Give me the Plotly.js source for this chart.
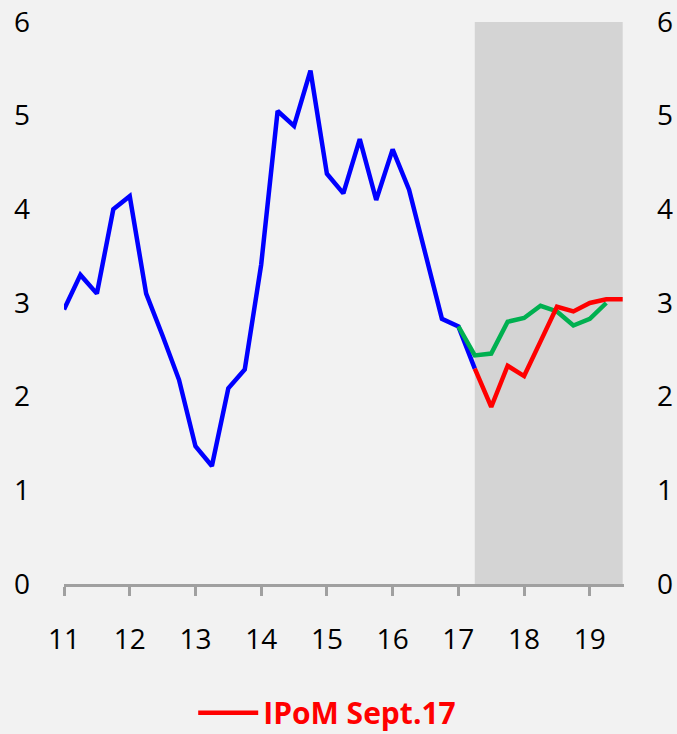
<!DOCTYPE html>
<html>
<head>
<meta charset="utf-8">
<script src="https://cdn.plot.ly/plotly-3.0.1.min.js"></script>
<style>
  html, body { margin: 0; padding: 0; background: #f2f2f2; }
  #chart { width: 677px; height: 734px; }
</style>
</head>
<body>
<div id="chart"></div>
<script>
// Historical series (blue), quarterly, years as decimals (11 = 2011)
const histX = [11.00, 11.25, 11.50, 11.75, 12.00, 12.25, 12.50, 12.75, 13.00, 13.25, 13.50, 13.75,
               14.00, 14.25, 14.50, 14.75, 15.00, 15.25, 15.50, 15.75, 16.00, 16.25, 16.50, 16.75,
               17.00, 17.25];
const histY = [2.93, 3.30, 3.10, 4.00, 4.14, 3.10, 2.65, 2.18, 1.47, 1.26, 2.09, 2.29,
               3.41, 5.05, 4.89, 5.48, 4.38, 4.17, 4.75, 4.10, 4.64, 4.21, 3.52, 2.83,
               2.75, 2.30];

// Current projection (red) - IPoM Sept.17
const ipomX = [17.25, 17.50, 17.75, 18.00, 18.25, 18.50, 18.75, 19.00, 19.25, 19.50];
const ipomY = [2.30, 1.89, 2.33, 2.22, 2.59, 2.96, 2.91, 3.00, 3.04, 3.04];

// Previous projection (green)
const prevX = [17.00, 17.25, 17.50, 17.75, 18.00, 18.25, 18.50, 18.75, 19.00, 19.25];
const prevY = [2.75, 2.44, 2.46, 2.80, 2.84, 2.97, 2.91, 2.76, 2.83, 3.00];

const xTicks = [11, 12, 13, 14, 15, 16, 17, 18, 19];
const xTickText = ['11', '12', '13', '14', '15', '16', '17', '18', '19'];
const yTicks = [0, 1, 2, 3, 4, 5, 6];
const legendName = 'IPoM Sept.17';
const projStart = 17.25, projEnd = 19.5;

const fontFam = '"Open Sans", "Noto Sans", sans-serif';

const traces = [
  { x: histX, y: histY, type: 'scatter', mode: 'lines', showlegend: false,
    line: { color: '#0000ff', width: 4.5 }, hoverinfo: 'skip' },
  { x: prevX, y: prevY, type: 'scatter', mode: 'lines', showlegend: false,
    line: { color: '#00b050', width: 4.5 }, hoverinfo: 'skip' },
  { x: ipomX, y: ipomY, type: 'scatter', mode: 'lines', name: legendName,
    line: { color: '#ff0000', width: 4.5 }, hoverinfo: 'skip' },
  { x: [11], y: [0], yaxis: 'y2', type: 'scatter', mode: 'markers', showlegend: false,
    marker: { opacity: 0 }, hoverinfo: 'skip' }
];

const layout = {
  width: 677, height: 734,
  paper_bgcolor: '#f2f2f2', plot_bgcolor: '#f2f2f2',
  margin: { l: 64, r: 53, t: 22, b: 150, autoexpand: false },
  font: { family: fontFam, size: 28, color: '#000000' },
  xaxis: {
    range: [11, 19.52], tickvals: xTicks, ticktext: xTickText,
    showgrid: false, zeroline: false,
    showline: true, linecolor: '#a0a0a0', linewidth: 3,
    ticks: 'outside', ticklen: 9, tickwidth: 3, tickcolor: '#a0a0a0',
    ticklabelstandoff: 19,
    tickfont: { family: fontFam, size: 28, color: '#000000' }
  },
  yaxis: {
    range: [0, 6], tickvals: yTicks, showgrid: false, zeroline: false,
    showline: false, ticks: '', ticklabelstandoff: 33,
    tickfont: { family: fontFam, size: 28, color: '#000000' }
  },
  yaxis2: {
    range: [0, 6], tickvals: yTicks, overlaying: 'y', side: 'right',
    showgrid: false, zeroline: false, showline: false, ticks: '',
    ticklabelstandoff: 32,
    tickfont: { family: fontFam, size: 28, color: '#000000' }
  },
  shapes: [
    { type: 'rect', xref: 'x', yref: 'y', x0: projStart, x1: projEnd, y0: 0, y1: 6.02,
      fillcolor: '#d4d4d4', line: { width: 0 }, layer: 'below' }
  ],
  showlegend: true,
  legend: {
    orientation: 'h', x: 0.47, xanchor: 'center', y: -0.229, yanchor: 'middle',
    bgcolor: 'rgba(0,0,0,0)', itemwidth: 60,
    font: { family: fontFam, size: 30, color: '#ff0000', weight: 'bold' }
  }
};

Plotly.newPlot('chart', traces, layout, { displayModeBar: false, staticPlot: true });
</script>
</body>
</html>
